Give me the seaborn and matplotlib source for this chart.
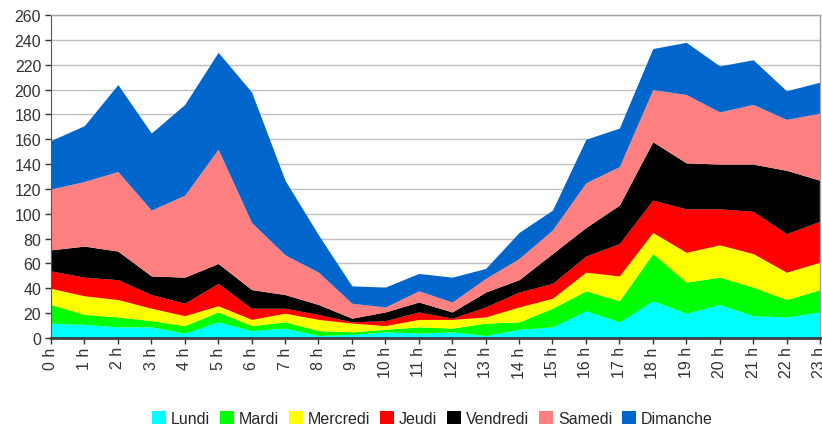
import matplotlib
matplotlib.use("Agg")
import matplotlib.pyplot as plt
import seaborn as sns
import numpy as np

# hours and labels
hours = list(range(24))
hour_labels = [f"{h} h" for h in hours]

# values per day (stacked)
lundi    = [12, 11,  9,  9,  4, 13,  6,  8,  2,  3,  5,  4,  5,  2,  7,  9, 22, 13, 30, 20, 27, 18, 17, 21]
mardi    = [15,  8,  8,  5,  6,  8,  4,  5,  4,  2,  2,  5,  3, 10,  6, 15, 16, 17, 38, 25, 22, 23, 14, 18]
mercredi = [13, 15, 14, 10,  8,  5,  5,  7,  9,  7,  3,  6,  7,  5, 12,  8, 15, 20, 17, 24, 26, 27, 22, 22]
jeudi    = [14, 15, 16, 11, 10, 18,  9,  4,  4,  1,  4,  6,  1,  8, 12, 12, 13, 26, 26, 35, 29, 34, 31, 33]
vendredi = [17, 25, 23, 15, 21, 16, 15, 11,  8,  3,  7,  8,  5, 12, 10, 24, 23, 31, 47, 37, 36, 38, 51, 33]
samedi   = [49, 52, 64, 53, 66, 92, 54, 32, 26, 12,  4,  9,  8, 11, 17, 19, 36, 31, 42, 55, 42, 48, 41, 54]
dimanche = [39, 45, 70, 62, 73, 78,105, 60, 30, 14, 16, 14, 20,  8, 21, 16, 35, 31, 33, 42, 37, 36, 23, 25]

days = ["Lundi", "Mardi", "Mercredi", "Jeudi", "Vendredi", "Samedi", "Dimanche"]
colors = ["#00FFFF", "#00FF00", "#FFFF00", "#FF0000", "#000000", "#FF8080", "#0066CC"]

sns.set_style("white")
plt.rcParams["font.family"] = ["Liberation Sans", "DejaVu Sans"]

fig = plt.figure(figsize=(8.22, 4.27), dpi=100)
ax = fig.add_axes([0.062, 0.206, 0.9355, 0.7565])

ax.stackplot(hours, lundi, mardi, mercredi, jeudi, vendredi, samedi, dimanche,
             labels=days, colors=colors, linewidth=0)

ax.set_xlim(0, 23)
ax.set_ylim(0, 260)
ax.set_yticks(range(0, 261, 20))
ax.set_xticks(hours)
ax.set_xticklabels(hour_labels, rotation=90)
ax.tick_params(axis="both", labelsize=11.5, colors="#333333", length=4, width=1,
               direction="out", bottom=True, left=True, pad=2)
ax.tick_params(axis="y", pad=3)
ax.yaxis.grid(True, color="#C0C0C0", linewidth=1)
ax.set_axisbelow(True)

for side in ["top", "right"]:
    ax.spines[side].set_color("#A0A0A0")
    ax.spines[side].set_linewidth(1)
ax.spines["left"].set_color("#555555")
ax.spines["bottom"].set_color("#404040")
ax.spines["bottom"].set_linewidth(2)
ax.spines["bottom"].set_zorder(5)

fig.legend(loc="center", bbox_to_anchor=(0.526, 0.018), ncol=7, frameon=False,
           fontsize=11.5, handlelength=0.9, handleheight=0.9, handletextpad=0.3,
           columnspacing=0.6, borderaxespad=0)

fig.savefig("out.png", dpi=100)
